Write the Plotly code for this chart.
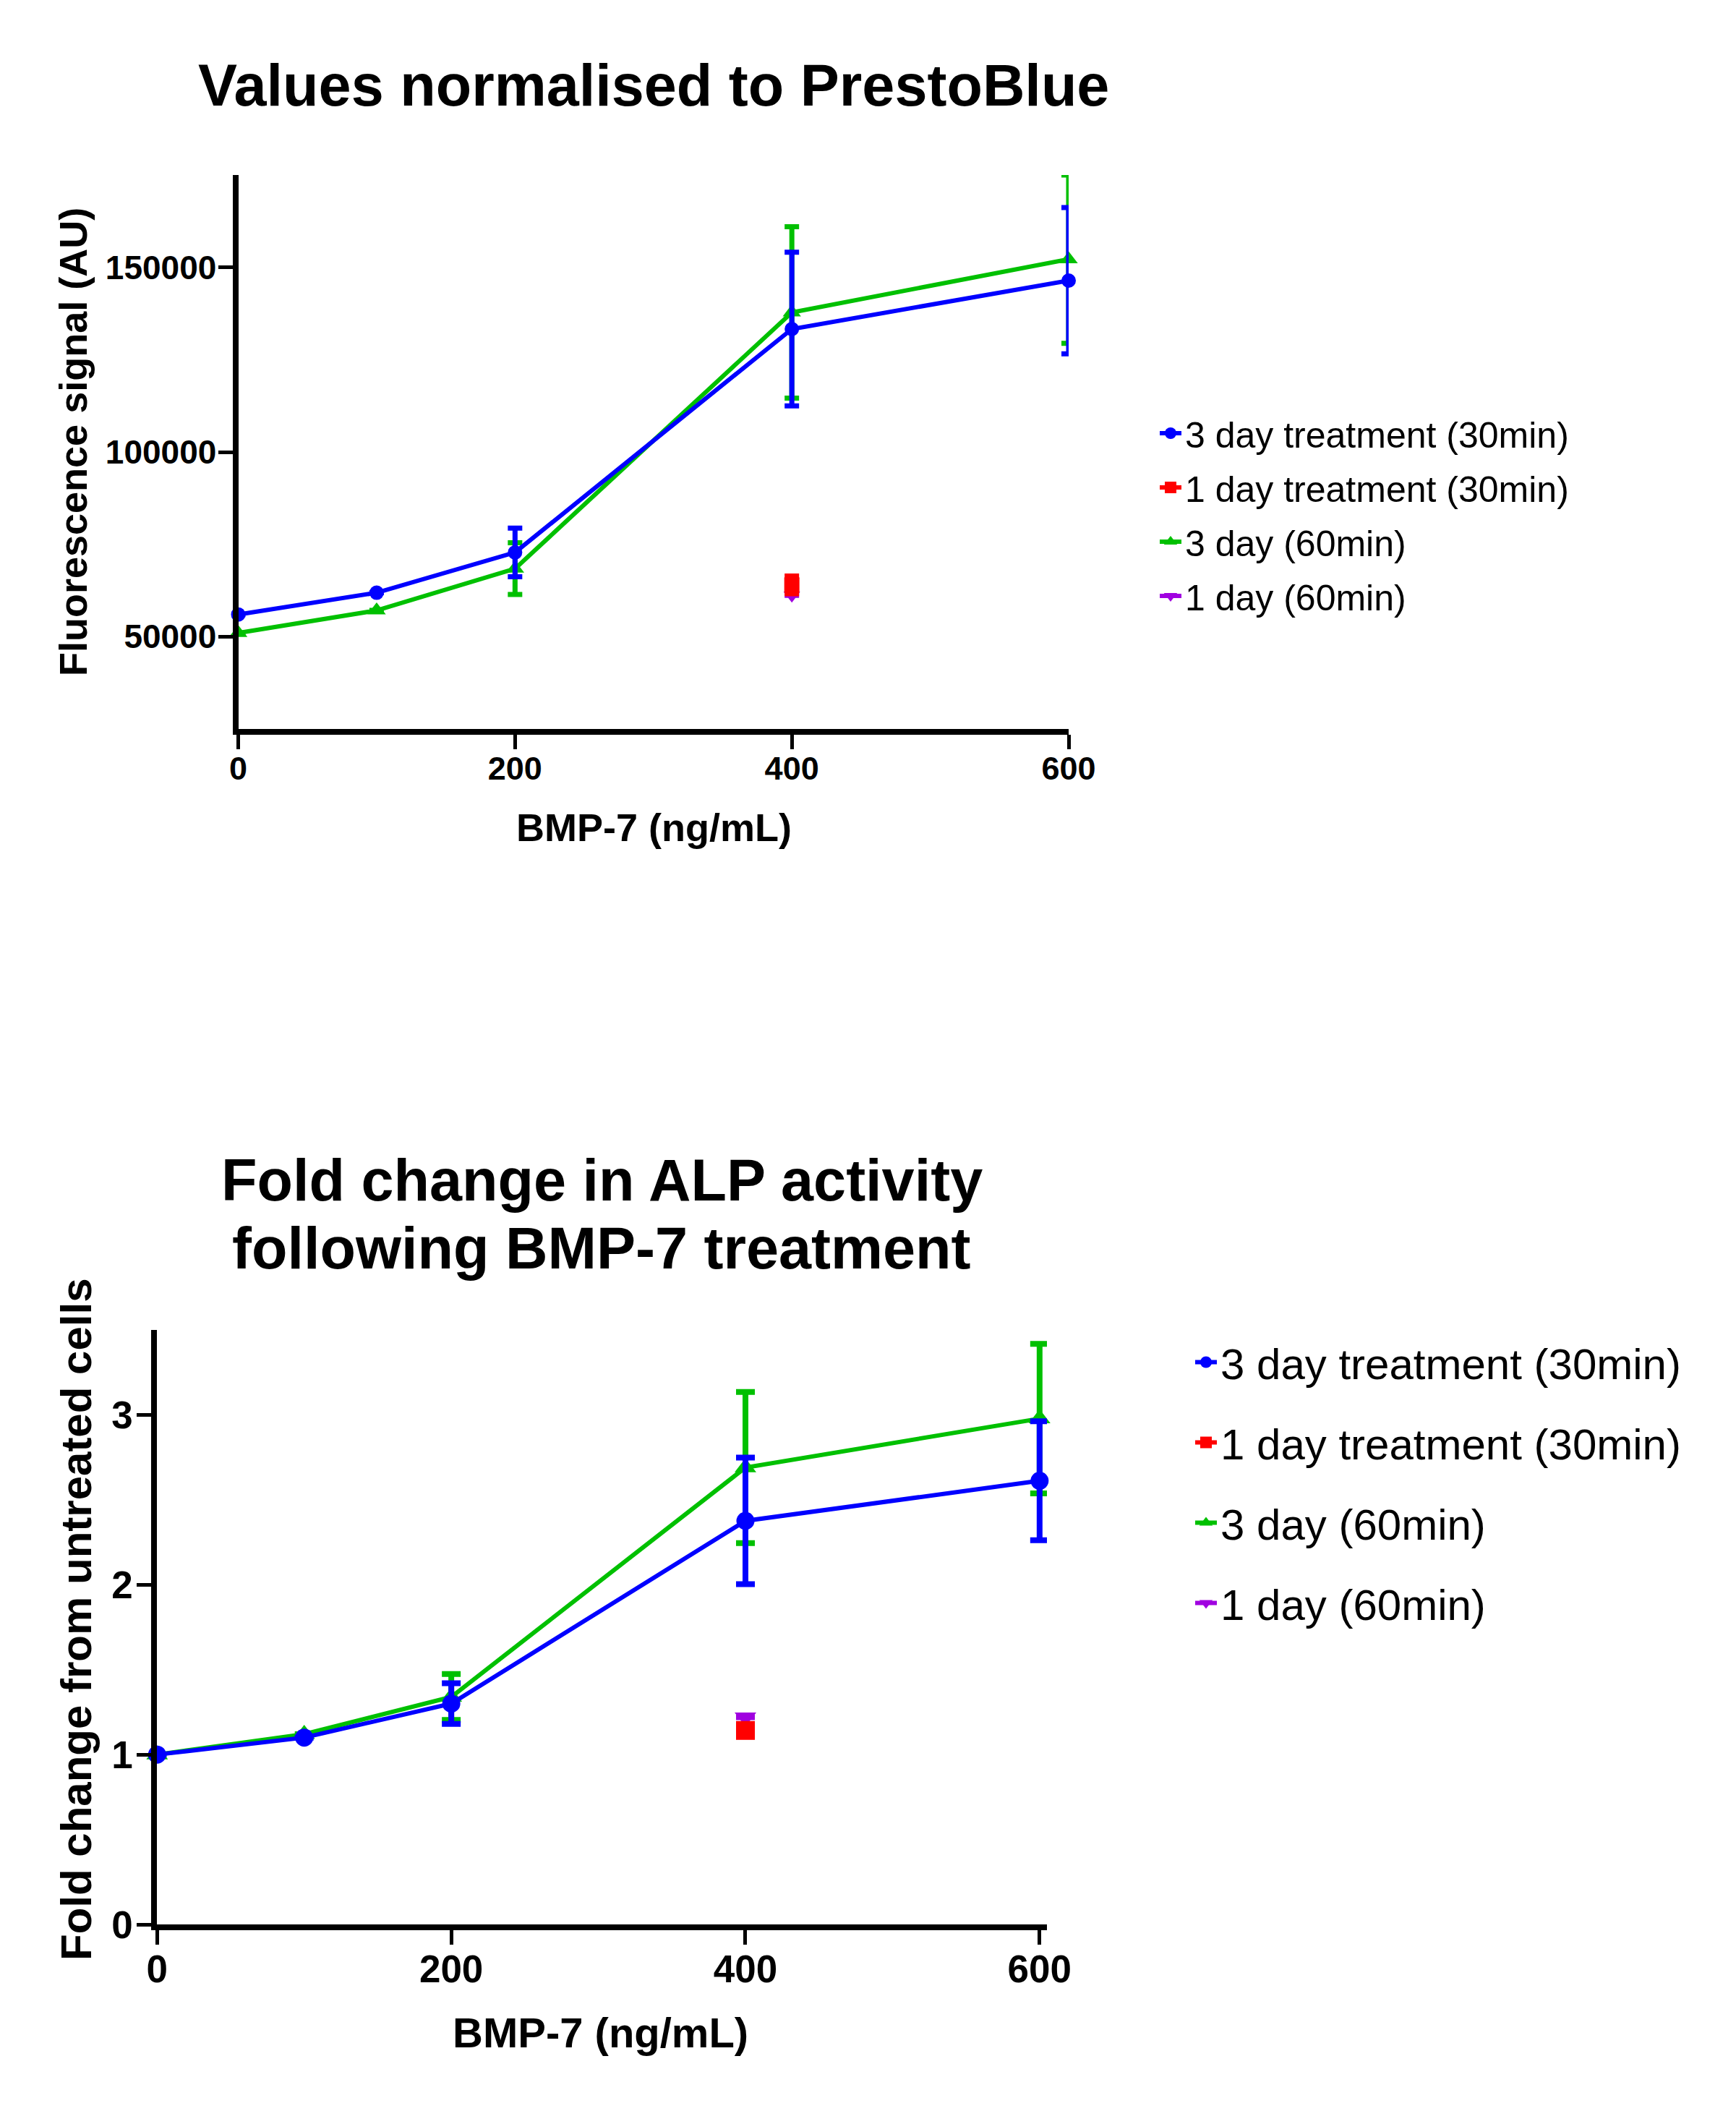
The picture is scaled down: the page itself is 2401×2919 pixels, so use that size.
import plotly.graph_objects as go

W, H = 2401, 2919
FONT = "Liberation Sans"

# ---------------- data ----------------
dose = [0, 100, 200, 400, 600]
dose_1day = [400]
series_names = ["3 day treatment (30min)", "1 day treatment (30min)",
                "3 day (60min)", "1 day (60min)"]

# Top panel: values normalised to PrestoBlue (Fluorescence, AU)
pb_3d30_mean = [56000, 61900, 72800, 133300, 146400]
pb_3d30_sd = [0, 0, 6600, 20800, 19800]
pb_3d60_mean = [51000, 57100, 68400, 137800, 152200]
pb_3d60_sd = [0, 0, 7000, 23200, 22800]
pb_1d30_mean = [64000]
pb_1d30_sd = [2400]
pb_1d60_mean = [61200]
pb_1d60_sd = [0]

# Bottom panel: fold change in ALP activity
fc_3d30_mean = [1.0, 1.10, 1.30, 2.376, 2.612]
fc_3d30_sd = [0, 0, 0.12, 0.373, 0.35]
fc_3d60_mean = [1.0, 1.12, 1.339, 2.69, 2.978]
fc_3d60_sd = [0, 0, 0.135, 0.445, 0.44]
fc_1d30_mean = [1.142]
fc_1d30_sd = [0]
fc_1d60_mean = [1.22]
fc_1d60_sd = [0]

top_yticks = [50000, 100000, 150000]
bot_yticks = [0, 1, 2, 3]
xticks = [0, 200, 400, 600]

BLUE = "#0000FF"
RED = "#FF0000"
GREEN = "#00C000"
PURPLE = "#A000E0"

fig = go.Figure()


def add(x, y, sd, name, color, symbol, msize, xa, ya, legend, rank, lw, ew, ecap):
    fig.add_trace(go.Scatter(
        x=x, y=y, name=name, mode="lines+markers",
        line=dict(color=color, width=lw),
        marker=dict(color=color, symbol=symbol, size=msize),
        error_y=dict(type="data", array=sd, visible=True, color=color,
                     thickness=ew, width=ecap),
        xaxis=xa, yaxis=ya, legend=legend, legendrank=rank,
        legendgroup=legend + name, cliponaxis=False,
    ))


# top panel (draw order: green, purple, red, blue)
add(dose, pb_3d60_mean, pb_3d60_sd, series_names[2], GREEN, "triangle-up", 22, "x", "y", "legend", 3, 6, 7, 10)
add(dose_1day, pb_1d60_mean, pb_1d60_sd, series_names[3], PURPLE, "triangle-down", 20, "x", "y", "legend", 4, 6, 7, 10)
add(dose_1day, pb_1d30_mean, pb_1d30_sd, series_names[1], RED, "square", 21, "x", "y", "legend", 2, 6, 7, 10)
add(dose, pb_3d30_mean, pb_3d30_sd, series_names[0], BLUE, "circle", 20, "x", "y", "legend", 1, 6, 7, 10)

# bottom panel
add(dose, fc_3d60_mean, fc_3d60_sd, series_names[2], GREEN, "triangle-up", 26, "x2", "y2", "legend2", 3, 6, 8, 13)
add(dose_1day, fc_1d60_mean, fc_1d60_sd, series_names[3], PURPLE, "triangle-down", 26, "x2", "y2", "legend2", 4, 6, 8, 13)
add(dose_1day, fc_1d30_mean, fc_1d30_sd, series_names[1], RED, "square", 26, "x2", "y2", "legend2", 2, 6, 8, 13)
add(dose, fc_3d30_mean, fc_3d30_sd, series_names[0], BLUE, "circle", 25, "x2", "y2", "legend2", 1, 6, 8, 13)


def px(v):
    return v / W


def py(v):
    return 1 - v / H


axis_common = dict(showline=True, linecolor="black", linewidth=8,
                   ticks="outside", ticklen=20, tickwidth=5, tickcolor="black",
                   showgrid=False, zeroline=False, automargin=False)

fig.update_layout(
    template="none",
    width=W, height=H, autosize=False,
    margin=dict(l=0, r=0, t=0, b=0, pad=0, autoexpand=False),
    paper_bgcolor="white", plot_bgcolor="white",
    font=dict(family=FONT, color="black"),
    xaxis=dict(domain=[px(329.5), px(1478)], range=[0, 600], anchor="y",
               tickvals=xticks, ticktext=[str(v) for v in xticks], ticklabelstandoff=-12,
               tickfont=dict(size=45, weight="bold", family=FONT), **axis_common),
    yaxis=dict(domain=[py(1008), py(242)], range=[25000, 175000], anchor="x",
               tickvals=top_yticks, ticktext=[str(v) for v in top_yticks], ticklabelstandoff=-7,
               tickfont=dict(size=46, weight="bold", family=FONT), **axis_common),
    xaxis2=dict(domain=[px(217.3), px(1448)], range=[0, 605], anchor="y2",
                tickvals=xticks, ticktext=[str(v) for v in xticks], ticklabelstandoff=-12,
                tickfont=dict(size=53, weight="bold", family=FONT), **axis_common),
    yaxis2=dict(domain=[py(2661), py(1839)], range=[0, 3.5], anchor="x2",
                tickvals=bot_yticks, ticktext=[str(v) for v in bot_yticks], ticklabelstandoff=-5,
                tickfont=dict(size=53, weight="bold", family=FONT), **axis_common),
    legend=dict(x=px(1599), y=py(560), xanchor="left", yanchor="top",
                font=dict(size=50, family=FONT), tracegroupgap=7,
                bgcolor="rgba(0,0,0,0)", itemsizing="trace"),
    legend2=dict(x=px(1648), y=py(1838), xanchor="left", yanchor="top",
                 font=dict(size=60, family=FONT), tracegroupgap=30,
                 bgcolor="rgba(0,0,0,0)", itemsizing="trace"),
    showlegend=True,
)

ann = [
    dict(text="Values normalised to PrestoBlue", x=px(904), y=py(118), size=81, angle=0),
    dict(text="Fold change in ALP activity", x=px(832), y=py(1632), size=81, angle=0),
    dict(text="following BMP-7 treatment", x=px(832), y=py(1726), size=81, angle=0),
    dict(text="BMP-7 (ng/mL)", x=px(904), y=py(1144), size=54, angle=0),
    dict(text="Fluorescence signal (AU)", x=px(101), y=py(611), size=54, angle=-90),
    dict(text="BMP-7 (ng/mL)", x=px(830), y=py(2810), size=58, angle=0),
    dict(text="Fold change from untreated cells", x=px(105), y=py(2239), size=60, angle=-90),
]
for a in ann:
    fig.add_annotation(text=a["text"], x=a["x"], y=a["y"], xref="paper", yref="paper",
                       xanchor="center", yanchor="middle", showarrow=False,
                       textangle=a["angle"],
                       font=dict(size=a["size"], family=FONT, weight="bold", color="black"))

fig.write_html("out.html")
